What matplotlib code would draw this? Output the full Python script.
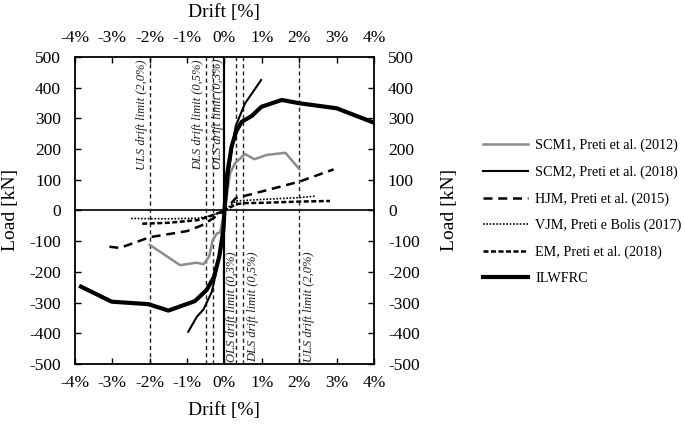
import numpy as np
import matplotlib
matplotlib.use("Agg")
import matplotlib.pyplot as plt
from matplotlib.ticker import FuncFormatter, MultipleLocator

plt.rcParams['font.family'] = ['Liberation Serif', 'DejaVu Serif']
plt.rcParams['axes.unicode_minus'] = False

# drift [%] / load [kN]
scm1_x = [-2.0, -1.19, -0.74, -0.56, -0.41, -0.32, -0.2, -0.12, 0.0, 0.15, 0.28, 0.55, 0.8, 1.13, 1.63, 2.0]
scm1_y = [-112, -178, -170, -175, -150, -98, -74, -72, 0, 121, 154, 184, 167, 181, 188, 135]

scm2_x = [-0.97, -0.74, -0.56, -0.34, -0.21, -0.07, 0.0, 0.1, 0.2, 0.3, 0.45, 0.55, 0.98]
scm2_y = [-395, -346, -322, -265, -194, -96, 0, 110, 205, 275, 320, 349, 425]

hjm_x = [-3.08, -2.8, -2.0, -1.0, -0.6, -0.3, 0.0, 0.3, 1.0, 2.0, 2.92]
hjm_y = [-118, -122, -87, -67, -48, -25, 0, 40, 62, 94, 134]

vjm_x = [-2.5, -1.5, -0.7, -0.4, 0.0, 0.3, 1.0, 2.0, 2.45]
vjm_y = [-26, -27, -25, -18, 0, 31, 36, 42, 47]

em_x = [-2.2, -1.5, -0.7, -0.3, 0.0, 0.3, 0.5, 1.0, 2.0, 2.82]
em_y = [-43, -40, -31, -15, 0, 20, 24, 25, 29, 31]

ilw_x = [-3.84, -3.02, -2.04, -1.5, -0.79, -0.48, -0.28, -0.14, -0.03, 0.0,
         0.075, 0.19, 0.31, 0.46, 0.73, 0.99, 1.53, 2.02, 3.0, 4.0]
ilw_y = [-248, -297, -305, -326, -295, -259, -216, -150, -64, 0,
         121, 208, 257, 289, 308, 338, 360, 349, 333, 286]

limits = [-2.0, -0.5, -0.3, 0.3, 0.5, 2.0]
labels = ['SCM1, Preti et al. (2012)', 'SCM2, Preti et al. (2018)', 'HJM, Preti et al. (2015)',
          'VJM, Preti e Bolis (2017)', 'EM, Preti et al. (2018)', 'ILWFRC']

fig = plt.figure(figsize=(6.85, 4.25), dpi=100)
ax = fig.add_axes([75/685, 1-364/425, (374-75)/685, (364-57)/425])

ax.axhline(0, color='k', lw=1.2, zorder=1)
ax.axvline(0, color='k', lw=1.6, zorder=1)
for lx in limits:
    ax.axvline(lx, color='#222222', lw=1.0, dashes=(3, 2.2), zorder=1)

ax.plot(scm1_x, scm1_y, color='#8c8c8c', lw=1.8, label=labels[0])
ax.plot(scm2_x, scm2_y, color='k', lw=1.5, label=labels[1])
ax.plot(hjm_x, hjm_y, color='k', lw=1.8, dashes=(3.6, 2.3), label=labels[2])
ax.plot(vjm_x, vjm_y, color='k', lw=1.2, dashes=(1, 1), label=labels[3])
ax.plot(em_x, em_y, color='k', lw=1.8, dashes=(2, 1), label=labels[4])
ax.plot(ilw_x, ilw_y, color='k', lw=3.0, label=labels[5])

# drift limit labels
tkw = dict(rotation=90, fontsize=9, style='italic', color='#222222')
ax.text(-2.05, 492, 'ULS drift limit (2,0%)', ha='right', va='top', **tkw)
ax.text(-0.55, 492, 'DLS drift limit (0,5%)', ha='right', va='top', **tkw)
ax.text(0.0, 495, 'OLS drift limit (0,3%)', ha='right', va='top', **tkw)
ax.text(0.03, -493, 'OLS drift limit (0,3%)', ha='left', va='bottom', **tkw)
ax.text(0.6, -493, 'DLS drift limit (0,5%)', ha='left', va='bottom', **tkw)
ax.text(2.1, -493, 'ULS drift limit (2,0%)', ha='left', va='bottom', **tkw)

ax.set_xlim(-4, 4)
ax.set_ylim(-500, 500)
ax.xaxis.set_major_locator(MultipleLocator(1))
ax.yaxis.set_major_locator(MultipleLocator(100))
ax.xaxis.set_major_formatter(FuncFormatter(lambda v, p: f"{int(round(v))}%"))
ax.yaxis.set_major_formatter(FuncFormatter(lambda v, p: f"{int(round(v))}"))
ax.tick_params(axis='both', direction='in', length=4, width=1, labelsize=12.5,
               top=True, right=True, labeltop=True, labelright=True)
ax.tick_params(axis='x', pad=8)
ax.tick_params(axis='y', pad=10)
for s in ax.spines.values():
    s.set_linewidth(1.3)

fig.text(224/685, 1-12/425, 'Drift [%]', ha='center', va='center', fontsize=14)
fig.text(224/685, 1-411/425, 'Drift [%]', ha='center', va='center', fontsize=14)
fig.text(11/685, 1-210/425, 'Load [kN]', ha='center', va='center', rotation=90, fontsize=14)
fig.text(449/685, 1-210/425, 'Load [kN]', ha='center', va='center', rotation=90, fontsize=14)

fig.legend(loc='upper left', bbox_to_anchor=(483/685, 1-139/425), frameon=False,
           fontsize=10.2, handlelength=3.2, handletextpad=0.5, labelspacing=0.93,
           borderpad=0, borderaxespad=0)

fig.savefig('out.png', dpi=100)
